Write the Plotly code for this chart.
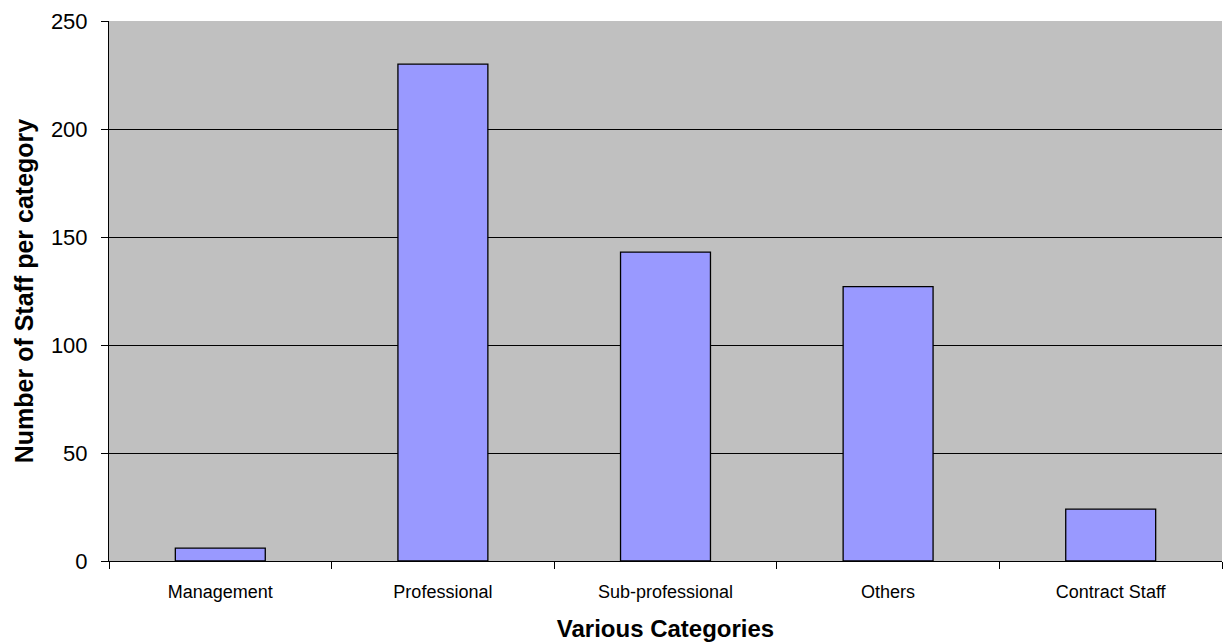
import plotly.graph_objects as go

categories = ["Management", "Professional", "Sub-professional", "Others", "Contract Staff"]
staff = [6, 230, 143, 127, 24]
y_ticks = [0, 50, 100, 150, 200, 250]

fig = go.Figure(go.Bar(
    x=categories, y=staff,
    marker=dict(color="#9999FF", line=dict(color="black", width=1.3)),
))

fig.update_layout(
    width=1229, height=642,
    margin=dict(l=109, r=7, t=21, b=81),
    plot_bgcolor="#C0C0C0", paper_bgcolor="white",
    bargap=0.596, showlegend=False,
    font=dict(family="Liberation Sans, Arial, sans-serif", color="black"),
)
fig.update_xaxes(
    automargin=False,
    tickson="boundaries", ticks="outside", ticklen=7, tickcolor="black",
    showline=True, linecolor="black", linewidth=1,
    tickfont=dict(size=18), showgrid=False, ticklabelstandoff=14,
    title=dict(text="<b>Various Categories</b>", font=dict(size=24), standoff=19),
)
fig.update_yaxes(
    automargin=False,
    range=[0, 250], tickvals=y_ticks, ticks="outside", ticklen=7, tickcolor="black",
    showline=True, linecolor="black", linewidth=1,
    showgrid=True, gridcolor="black", gridwidth=1, zeroline=False,
    tickfont=dict(size=22), ticklabelstandoff=9,
    title=dict(text="<b>Number of Staff per category</b>", font=dict(size=25), standoff=10),
)
fig.write_html("out.html")
